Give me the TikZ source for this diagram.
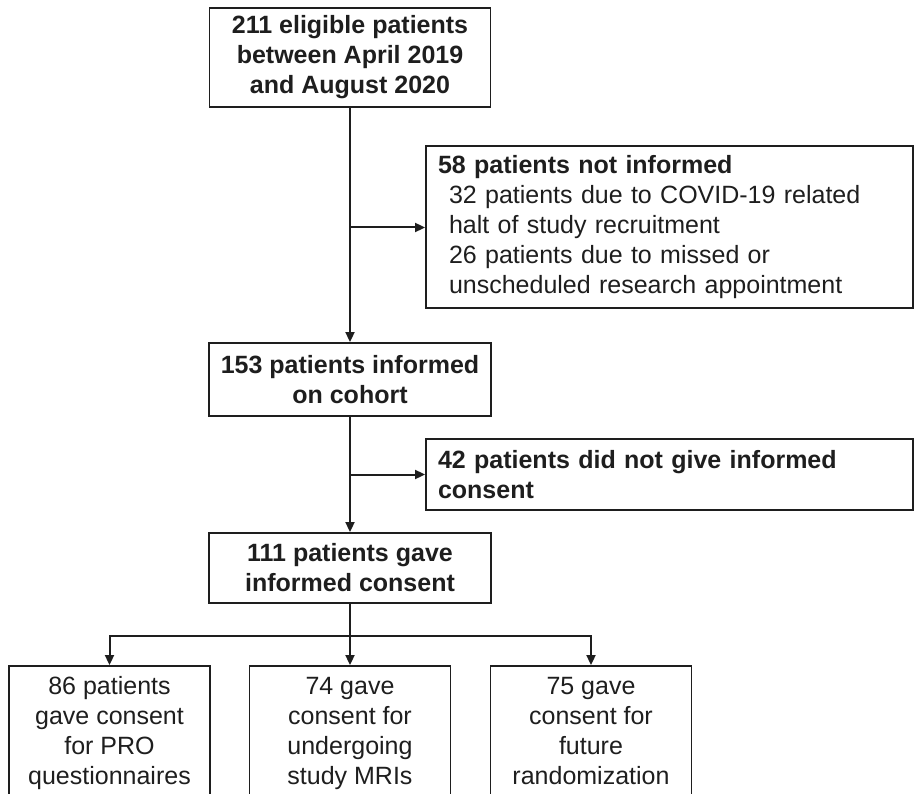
\documentclass[tikz,border=0pt]{standalone}
\usepackage{fontspec}
\setmainfont{Liberation Sans}
\usetikzlibrary{arrows.meta}
\definecolor{ink}{HTML}{1E1E1E}
\tikzset{
  box/.style={draw=ink, line width=1.9pt, inner sep=0pt, text=ink,
    font=\fontsize{25}{30}\selectfont},
  boldbox/.style={box, font=\fontsize{25}{30}\selectfont\bfseries},
  conn/.style={draw=ink, line width=2pt},
  arr/.style={conn, -{Triangle[length=10pt,width=9pt]}},
}
\begin{document}
\begin{tikzpicture}[x=1pt,y=-1pt]
\useasboundingbox (0,0) rectangle (915,794);
\clip (0,0) rectangle (915,794);
% main column
\node[boldbox, minimum width=281pt, minimum height=99pt, align=center] (top) at (350,57.5)
  {211 eligible patients\\between April 2019\\and August 2020};
\node[boldbox, minimum width=282pt, minimum height=73pt, align=center] (inf) at (350,379.5)
  {153 patients informed\\on cohort};
\node[boldbox, minimum width=282pt, minimum height=70pt, align=center] (gave) at (350,568)
  {111 patients gave\\informed consent};
% side boxes
\node[box, minimum width=487pt, minimum height=162pt, text width=463pt, align=left] (notinf) at (669.5,227)
  {\textbf{58 patients not informed}\\
   \hspace*{11pt}32 patients due to COVID-19 related\\
   \hspace*{11pt}halt of study recruitment\\
   \hspace*{11pt}26 patients due to missed or\\
   \hspace*{11pt}unscheduled research appointment};
\node[boldbox, minimum width=487pt, minimum height=71pt, text width=463pt, align=left] (nocons) at (669.5,474.5)
  {42 patients did not give informed\\consent};
% bottom boxes
\node[box, minimum width=201pt, minimum height=134pt, align=center] (b1) at (109.5,733)
  {\strut 86 patients\\gave consent\\for PRO\\questionnaires\strut};
\node[box, minimum width=201pt, minimum height=134pt, align=center] (b2) at (350,733)
  {\strut 74 gave\\consent for\\undergoing\\study MRIs\strut};
\node[box, minimum width=201pt, minimum height=134pt, align=center] (b3) at (591,733)
  {\strut 75 gave\\consent for\\future\\randomization\strut};
% connectors
\coordinate (j1) at (350,227.5);
\coordinate (j2) at (350,474.5);
\coordinate (j3) at (350,635.5);
\draw[arr] (top) -- (inf);
\draw[arr] (j1) -- (notinf.west |- j1);
\draw[arr] (inf) -- (gave);
\draw[arr] (j2) -- (nocons.west |- j2);
\draw[conn] (gave) -- (j3);
\draw[arr] (j3) -- (b2);
\draw[arr] (j3) -| (b1);
\draw[arr] (j3) -| (b3);
\end{tikzpicture}
\end{document}
